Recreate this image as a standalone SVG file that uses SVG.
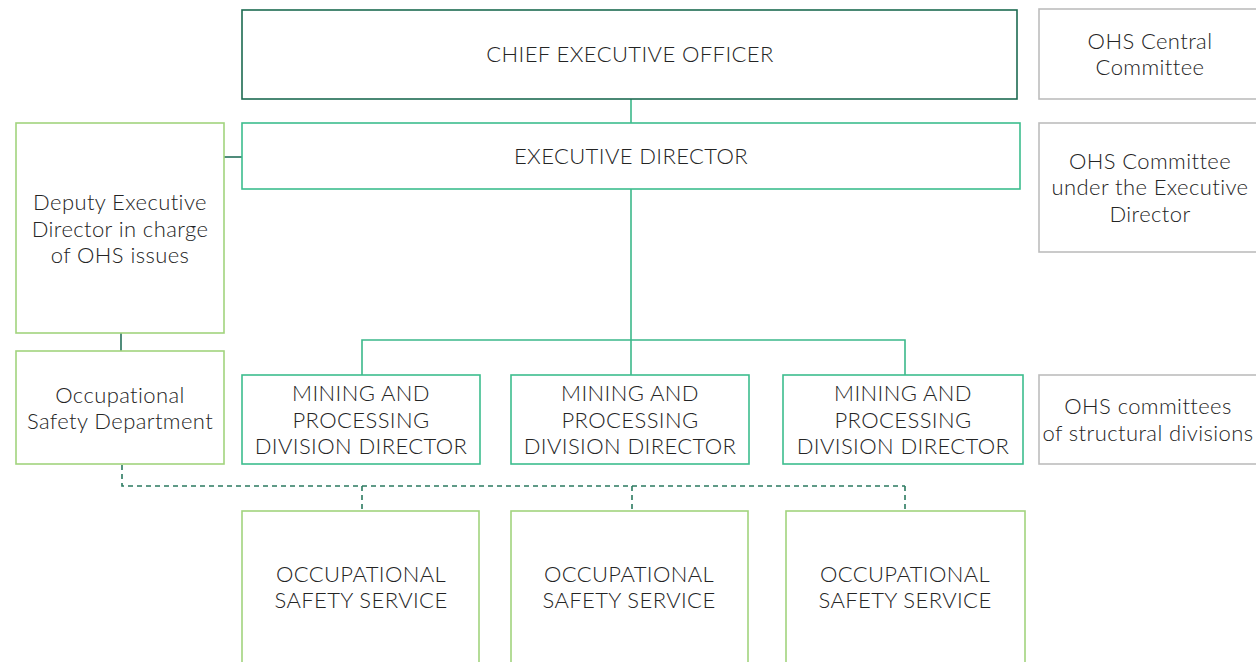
<svg xmlns="http://www.w3.org/2000/svg" width="1256" height="662" viewBox="0 0 1256 662">
  <style>
    text { font-family: "Lato", "Liberation Sans", sans-serif; font-weight: 300; font-size: 22px; letter-spacing: 0.4px; fill: #242424; text-anchor: middle; }
    .box { fill: #ffffff; stroke-width: 1.6; }
    .dark { stroke: #1d6b52; }
    .teal { stroke: #3dbd8e; }
    .light { stroke: #a2d47e; }
    .gray { stroke: #bdbdbd; }
    .link { fill: none; stroke-width: 1.6; }
    .link-teal { stroke: #3bb88a; }
    .link-dark { stroke: #25705a; }
    .dash { stroke: #2b7a60; stroke-dasharray: 5 4; }
  </style>
  <rect width="1256" height="662" fill="#ffffff"/>

  <g id="connectors">
    <line class="link link-teal" x1="631" y1="99" x2="631" y2="123"/>
    <line class="link link-dark" x1="224" y1="157" x2="242" y2="157"/>
    <line class="link link-dark" x1="121" y1="333" x2="121" y2="351"/>
    <line class="link link-teal" x1="631" y1="189" x2="631" y2="340"/>
    <polyline class="link link-teal" points="362,375 362,340 905,340 905,375"/>
    <line class="link link-teal" x1="631" y1="340" x2="631" y2="375"/>
    <polyline class="link dash" points="122,465 122,486 905,486"/>
    <line class="link dash" x1="362" y1="486" x2="362" y2="511"/>
    <line class="link dash" x1="632" y1="486" x2="632" y2="511"/>
    <line class="link dash" x1="905" y1="486" x2="905" y2="511"/>
  </g>

  <g id="ceo">
    <rect class="box dark" x="242" y="10" width="775" height="89"/>
    <text x="630" y="62">CHIEF EXECUTIVE OFFICER</text>
  </g>
  <g id="executive-director">
    <rect class="box teal" x="242" y="123" width="778" height="66"/>
    <text x="631" y="164">EXECUTIVE DIRECTOR</text>
  </g>
  <g id="deputy-director">
    <rect class="box light" x="16" y="123" width="208" height="210"/>
    <text x="120" y="210">Deputy Executive</text>
    <text x="120" y="237">Director in charge</text>
    <text x="120" y="263">of OHS issues</text>
  </g>
  <g id="safety-department">
    <rect class="box light" x="16" y="351" width="208" height="113"/>
    <text x="120" y="403">Occupational</text>
    <text x="120" y="429">Safety Department</text>
  </g>

  <g id="division-1">
    <rect class="box teal" x="242" y="375" width="238" height="89"/>
    <text x="361" y="401">MINING AND</text>
    <text x="361" y="428">PROCESSING</text>
    <text x="361" y="454">DIVISION DIRECTOR</text>
  </g>
  <g id="division-2">
    <rect class="box teal" x="511" y="375" width="238" height="89"/>
    <text x="630" y="401">MINING AND</text>
    <text x="630" y="428">PROCESSING</text>
    <text x="630" y="454">DIVISION DIRECTOR</text>
  </g>
  <g id="division-3">
    <rect class="box teal" x="783" y="375" width="240" height="89"/>
    <text x="903" y="401">MINING AND</text>
    <text x="903" y="428">PROCESSING</text>
    <text x="903" y="454">DIVISION DIRECTOR</text>
  </g>

  <g id="service-1">
    <rect class="box light" x="242" y="511" width="237" height="160"/>
    <text x="361" y="582">OCCUPATIONAL</text>
    <text x="361" y="608">SAFETY SERVICE</text>
  </g>
  <g id="service-2">
    <rect class="box light" x="511" y="511" width="237" height="160"/>
    <text x="629" y="582">OCCUPATIONAL</text>
    <text x="629" y="608">SAFETY SERVICE</text>
  </g>
  <g id="service-3">
    <rect class="box light" x="786" y="511" width="239" height="160"/>
    <text x="905" y="582">OCCUPATIONAL</text>
    <text x="905" y="608">SAFETY SERVICE</text>
  </g>

  <g id="central-committee">
    <rect class="box gray" x="1039" y="9" width="230" height="90"/>
    <text x="1150" y="49">OHS Central</text>
    <text x="1150" y="75">Committee</text>
  </g>
  <g id="executive-committee">
    <rect class="box gray" x="1039" y="123" width="230" height="129"/>
    <text x="1150" y="169">OHS Committee</text>
    <text x="1150" y="195">under the Executive</text>
    <text x="1150" y="222">Director</text>
  </g>
  <g id="division-committees">
    <rect class="box gray" x="1039" y="375" width="230" height="89"/>
    <text x="1148" y="414">OHS committees</text>
    <text x="1148" y="441">of structural divisions</text>
  </g>
</svg>
